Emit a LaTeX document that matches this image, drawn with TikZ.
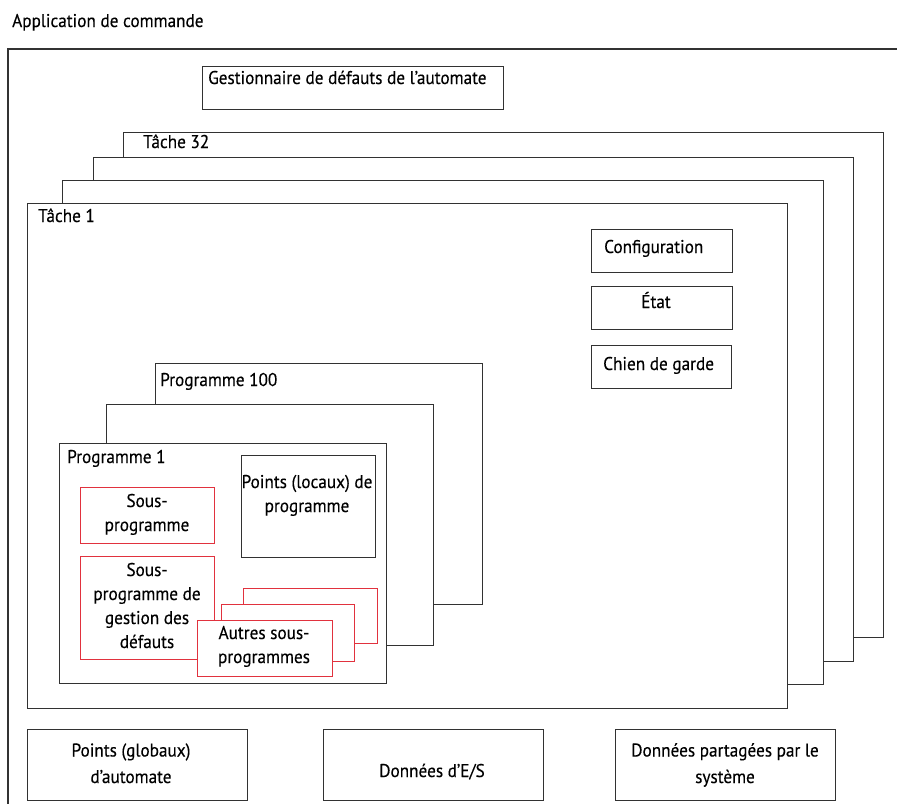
\documentclass[tikz,border=0pt]{standalone}
\usepackage{fontspec}
\setmainfont{PT Sans}[FakeStretch=0.93,FakeBold=0.3]
\definecolor{linegray}{RGB}{50,50,50}
\definecolor{subred}{RGB}{225,50,62}
% a box given by its top-left and bottom-right corners
\newcommand{\panel}[6][frame]{%
  \node[#1,anchor=north west,minimum width={(#5)-(#3)},minimum height={(#6)-(#4)}] (#2) at (#3,#4) {};}
\begin{document}
\begin{tikzpicture}[x=1pt,y=-1pt,
  frame/.style={draw=linegray,line width=1.1pt,fill=white,inner sep=0pt,rectangle},
  redframe/.style={draw=subred,line width=1.1pt,fill=white,inner sep=0pt,rectangle},
  txt/.style={font=\fontsize{18.5}{24}\selectfont,inner sep=0pt,anchor=base west},
  ctxt/.style={font=\fontsize{18.5}{24}\selectfont,inner sep=0pt,align=center,anchor=base},
  wide/.style={font=\fontsize{18.5}{26.5}\selectfont}]
\useasboundingbox (0,0) rectangle (897,804);
\fill[white] (0,0) rectangle (897,804);

% application frame (runs off the page to the right and bottom)
\draw[linegray,line width=1.1pt] (897,49) -- (8,49) -- (8,804);
\node[txt] (app) at (12,27) {Application de commande};

\panel{fault}{202}{66}{503}{109}
\node[txt] (faultlbl) at (208,84) {Gestionnaire de défauts de l’automate};

% stack of tasks
\panel{task32}{123}{132}{883}{637}
\panel{taskc}{93}{157}{853}{661}
\panel{taskb}{62}{180}{823}{684}
\panel{task1}{27}{203}{787}{708}
\node[txt] (t32lbl) at (143,148) {Tâche 32};
\node[txt] (t1lbl) at (38,222) {Tâche 1};

\panel{config}{591}{229}{732}{272}
\panel{state}{591}{286}{732}{329}
\panel{watch}{591}{345}{731}{388}
\node[txt] (configlbl) at (604,253) {Configuration};
\node[ctxt] (statelbl) at (656,308) {État};
\node[txt] (watchlbl) at (603,370) {Chien de garde};

% stack of programs
\panel{prog100}{155}{363}{482}{604}
\panel{progb}{106}{404}{433}{645}
\panel{prog1}{59}{443}{386}{683}
\node[txt] (p100lbl) at (160,386) {Programme 100};
\node[txt] (p1lbl) at (67,463) {Programme 1};

\panel{localtags}{241}{455}{375}{557}
\node[ctxt] (localtagslbl) at (307,512) {Points (locaux) de\\programme};

\panel[redframe]{routine}{80}{487}{214}{543}
\node[ctxt] (routinelbl) at (147,531) {Sous-\\programme};

\panel[redframe]{faultroutine}{80}{556}{214}{659}
\node[ctxt] (faultroutinelbl) at (147,648) {Sous-\\programme de\\gestion des\\défauts};

\panel[redframe]{otherc}{243}{588}{377}{643}
\panel[redframe]{otherb}{221}{604}{354}{661}
\panel[redframe]{others}{197}{620}{332}{676}
\node[ctxt] (otherslbl) at (264,663) {Autres sous-\\programmes};

% controller-wide data
\panel{globaltags}{27}{729}{247}{800}
\panel{iodata}{323}{729}{543}{800}
\panel{sysdata}{615}{729}{835}{800}
\node[ctxt,wide] (globaltagslbl) at (131,783) {Points (globaux)\\d’automate};
\node[ctxt] (iodatalbl) at (432,777) {Données d’E/S};
\node[ctxt,wide] (sysdatalbl) at (725,783) {Données partagées par le\\système};
\end{tikzpicture}
\end{document}
